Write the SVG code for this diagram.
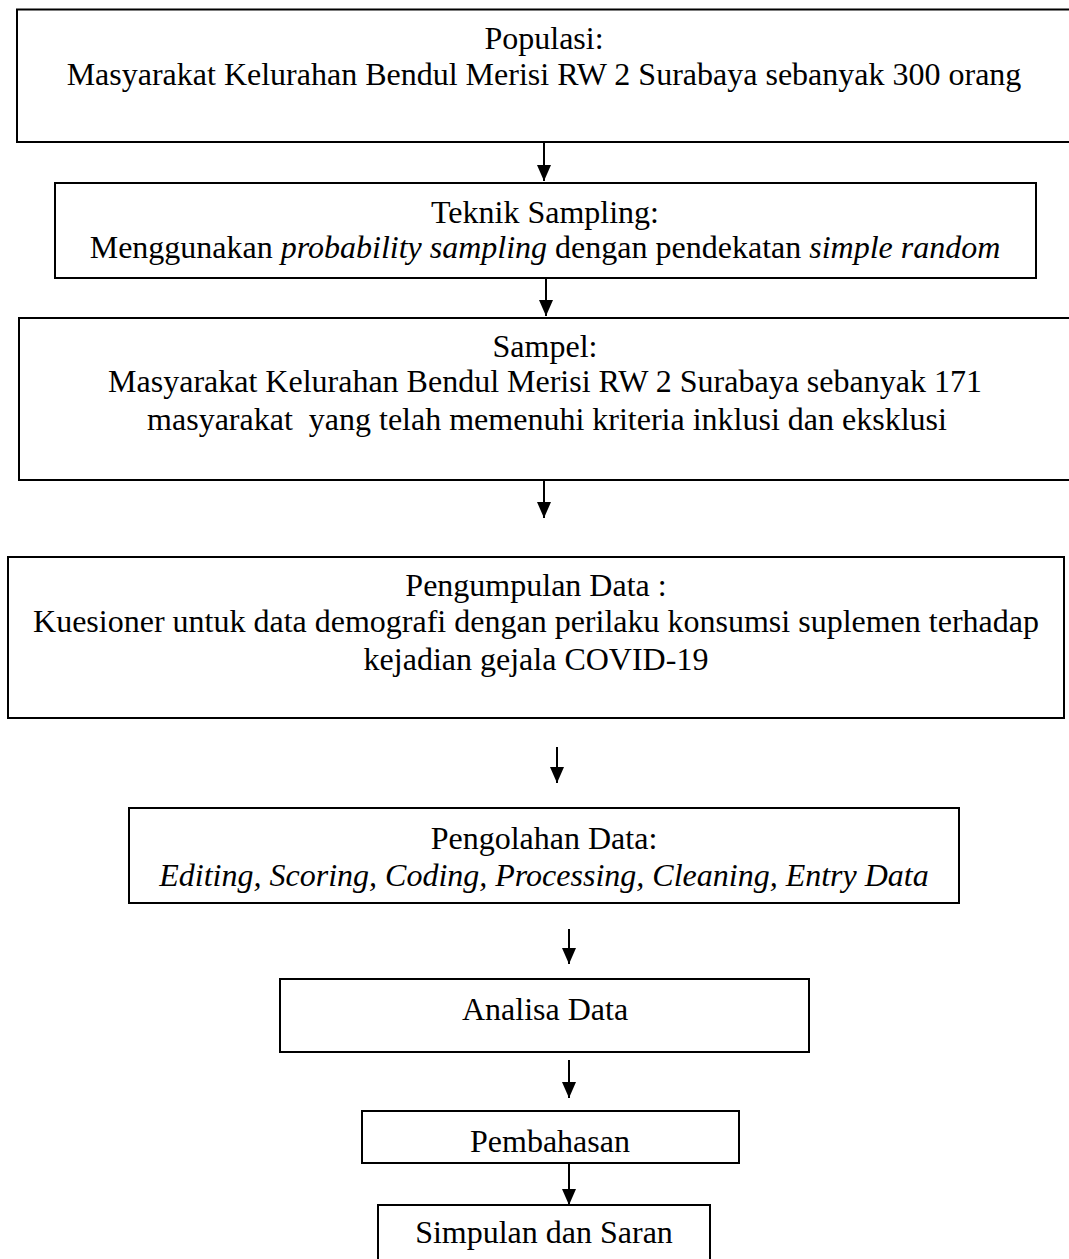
<svg xmlns="http://www.w3.org/2000/svg" width="1069" height="1259" viewBox="0 0 1069 1259">
<style>
.box{fill:#fff;stroke:#000;stroke-width:2}
text{font-family:"Liberation Serif","Times New Roman",serif;font-size:32px;fill:#000;text-anchor:middle;white-space:pre}
.i{font-style:italic}
.conn{stroke:#000;stroke-width:2;fill:none;marker-end:url(#arr)}
</style>
<defs>
<marker id="arr" markerUnits="userSpaceOnUse" markerWidth="16" markerHeight="14" refX="16" refY="7" orient="auto">
<path d="M0,0 L16,7 L0,14 z" fill="#000"/>
</marker>
</defs>
<rect width="1069" height="1259" fill="#fff"/>
<g id="connectors">
<path class="conn" d="M544,143 V181"/>
<path class="conn" d="M546,279 V316"/>
<path class="conn" d="M544,481 V518"/>
<path class="conn" d="M557,747 V783"/>
<path class="conn" d="M569,929 V964"/>
<path class="conn" d="M569,1060 V1098"/>
<path class="conn" d="M569,1164 V1205"/>
</g>
<g id="populasi">
<rect class="box" x="17" y="9.5" width="1054" height="132.5"/>
<text x="544" y="49">Populasi:</text>
<text x="544" y="85">Masyarakat Kelurahan Bendul Merisi RW 2 Surabaya sebanyak 300 orang</text>
</g>
<g id="teknik-sampling">
<rect class="box" x="55" y="183" width="981" height="95"/>
<text x="545" y="223">Teknik Sampling:</text>
<text x="545" y="258">Menggunakan <tspan class="i">probability sampling</tspan> dengan pendekatan <tspan class="i">simple random</tspan></text>
</g>
<g id="sampel">
<rect class="box" x="19" y="318" width="1052" height="162"/>
<text x="545" y="357">Sampel:</text>
<text x="545" y="392">Masyarakat Kelurahan Bendul Merisi RW 2 Surabaya sebanyak 171</text>
<text x="547" y="430">masyarakat  yang telah memenuhi kriteria inklusi dan eksklusi</text>
</g>
<g id="pengumpulan-data">
<rect class="box" x="8" y="557" width="1056" height="161"/>
<text x="536" y="596">Pengumpulan Data :</text>
<text x="536" y="632">Kuesioner untuk data demografi dengan perilaku konsumsi suplemen terhadap</text>
<text x="536" y="670">kejadian gejala COVID-19</text>
</g>
<g id="pengolahan-data">
<rect class="box" x="129" y="808" width="830" height="95"/>
<text x="544" y="849">Pengolahan Data:</text>
<text x="544" y="886" class="i">Editing, Scoring, Coding, Processing, Cleaning, Entry Data</text>
</g>
<g id="analisa-data">
<rect class="box" x="280" y="979" width="529" height="73"/>
<text x="545" y="1020">Analisa Data</text>
</g>
<g id="pembahasan">
<rect class="box" x="362" y="1111" width="377" height="52"/>
<text x="550" y="1152">Pembahasan</text>
</g>
<g id="simpulan">
<rect class="box" x="378" y="1205" width="332" height="60"/>
<text x="544" y="1243">Simpulan dan Saran</text>
</g>
</svg>
